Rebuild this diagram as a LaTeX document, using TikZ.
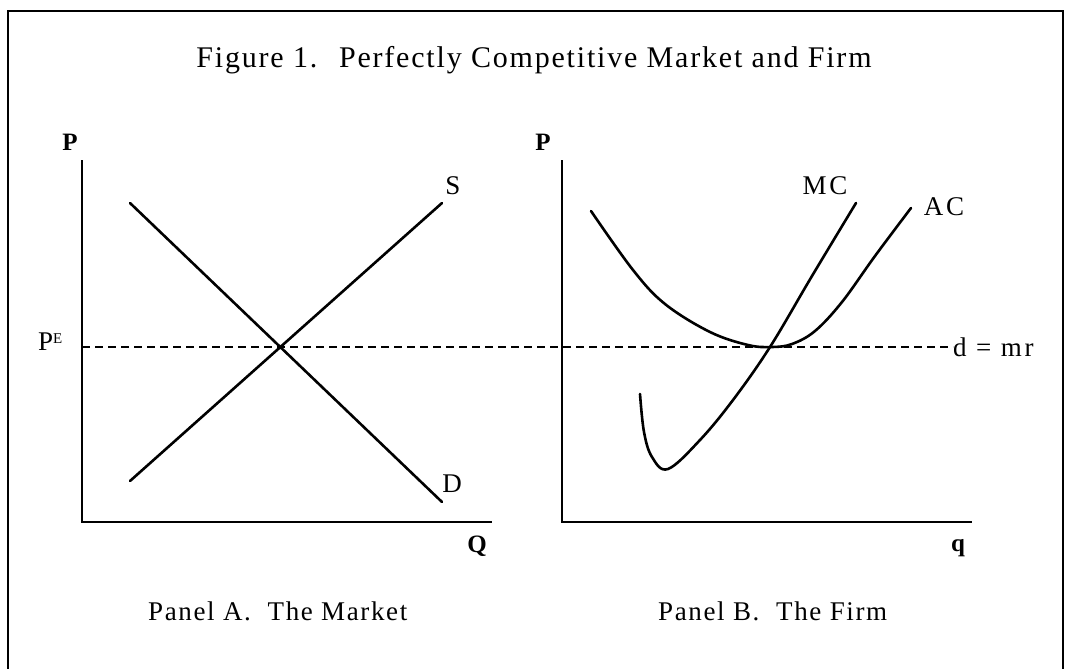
\documentclass[tikz,border=0pt]{standalone}
\usepackage{fontspec}
\setmainfont{Liberation Serif}
\usetikzlibrary{positioning}

\begin{document}
\begin{tikzpicture}[x=1pt, y=-1pt,
  axis/.style={line width=2.4pt},
  curve/.style={line width=2.6pt, line cap=round},
  txt/.style={inner sep=0pt, font=\fontsize{30}{32}\selectfont\addfontfeature{LetterSpace=6}},
  lbl/.style={inner sep=0pt, font=\fontsize{27}{29}\selectfont\addfontfeature{LetterSpace=6}},
  clbl/.style={inner sep=0pt, font=\fontsize{27}{29}\selectfont\addfontfeature{LetterSpace=10}},
  axlbl/.style={inner sep=0pt, font=\fontsize{25}{27}\selectfont\bfseries}]

\useasboundingbox (0,0) rectangle (1066,669);
\clip (0,0) rectangle (1066,669);

% frame
\draw[line width=2.4pt] (8,690) -- (8,11) -- (1063,11) -- (1063,690);

% title and panel names
\node[txt, anchor=base] (title) at (534,67) {Figure 1.~ Perfectly Competitive Market and Firm};
\node[lbl, anchor=base west] (panelA) at (148,620) {Panel A.~ The Market};
\node[lbl, anchor=base west] (panelB) at (658,620) {Panel B.~ The Firm};

% Panel A: the market
\coordinate (oA) at (82,522);
\coordinate (yA) at (82,160);
\coordinate (xA) at (492,522);
\draw[axis] (yA) -- (oA) -- (xA);
\node[axlbl] (pA) at (70,142) {P};
\node[axlbl] (qA) at (477,546) {Q};

\coordinate (d1) at (130,203);
\coordinate (d2) at (442,502);
\coordinate (s1) at (130,481);
\coordinate (s2) at (442,203);
\draw[curve] (d1) -- (d2);
\draw[curve] (s1) -- (s2);
\node[clbl] (dlab) at (452,484) {D};
\node[clbl] (slab) at (453,186) {S};

% equilibrium price
\node[clbl, anchor=base west] (pe) at (38,350) {P\raisebox{0.5ex}{\fontsize{15}{16}\selectfont E}};
\node[clbl, anchor=west] (mr) at (953,347) {d = mr};
\draw[line width=1.5pt, dash pattern=on 8pt off 5pt] (oA |- 0,347) -- (mr.west);

% Panel B: the firm
\coordinate (oB) at (562,522);
\coordinate (yB) at (562,160);
\coordinate (xB) at (972,522);
\draw[axis] (yB) -- (oB) -- (xB);
\node[axlbl] (pB) at (543,142) {P};
\node[axlbl] (qB) at (958,548) {q};

% average cost
\draw[curve] plot[smooth, tension=0.6] coordinates {(591,211) (633,270) (665,304) (710,332) (748,345) (772,347) (792,344) (815,331) (842,302) (875,256) (911,208)};
\node[clbl] (ac) at (944,207) {AC};

% marginal cost
\draw[curve] plot[smooth, tension=0.6] coordinates {(640,394) (644,432) (652,457) (668,469) (700,440) (733,400) (770,347) (812,276) (856,203)};
\node[clbl] (mc) at (825,186) {MC};

\end{tikzpicture}
\end{document}
